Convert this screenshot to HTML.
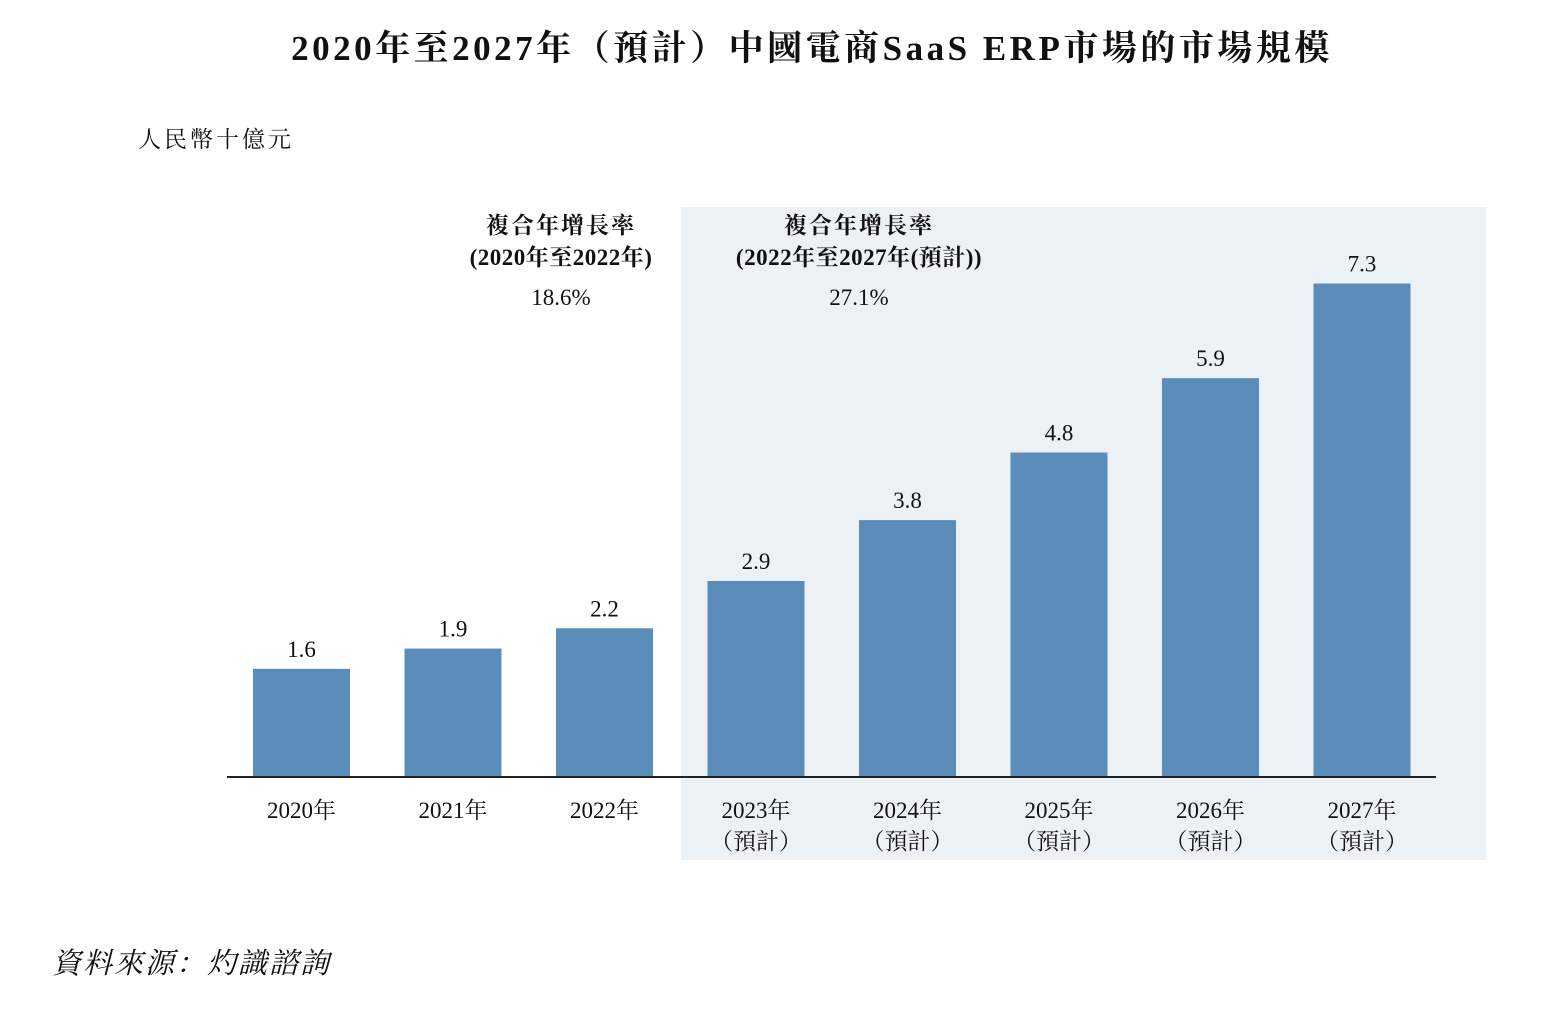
<!DOCTYPE html>
<html><head><meta charset="utf-8"><style>
body{margin:0;background:#fff;}
svg text{font-family:"Liberation Serif","Noto Serif CJK SC","Noto Sans CJK TC",serif;fill:#111;}
</style></head><body>
<svg width="1564" height="1028" xmlns="http://www.w3.org/2000/svg">
<text x="812" y="60" font-size="35" font-weight="bold" text-anchor="middle" letter-spacing="3.5">2020年至2027年（預計）中國電商SaaS ERP市場的市場規模</text>
<text x="138" y="147" font-size="23" letter-spacing="3">人民幣十億元</text>
<rect x="681" y="207" width="805" height="653" fill="#ecf1f5"/>
<g font-size="23" text-anchor="middle">
<text x="561" y="233" font-weight="bold" letter-spacing="2">複合年增長率</text>
<text x="561" y="265" font-weight="bold" letter-spacing="0.5">(2020年至2022年)</text>
<text x="561" y="305">18.6%</text>
<text x="859" y="233" font-weight="bold" letter-spacing="2">複合年增長率</text>
<text x="859" y="265" font-weight="bold" letter-spacing="0.5">(2022年至2027年(預計))</text>
<text x="859" y="305">27.1%</text>
</g>
<g id="bars"></g>
<line x1="227" y1="777" x2="1436" y2="777" stroke="#222" stroke-width="2"/>
<text x="52" y="973" font-size="29" font-style="italic" letter-spacing="2">資料來源：灼識諮詢</text>
</svg>
<script>
const categories=["2020年","2021年","2022年","2023年","2024年","2025年","2026年","2027年"];
const forecast=[false,false,false,true,true,true,true,true];
const values=[1.6,1.9,2.2,2.9,3.8,4.8,5.9,7.3];
const labels=["1.6","1.9","2.2","2.9","3.8","4.8","5.9","7.3"];
const g=document.getElementById('bars');
const NS="http://www.w3.org/2000/svg";
const base=777, scale=67.6;
const xC=i=>301.5+i*151.5;
const yV=v=>base-v*scale;
values.forEach((v,i)=>{
  const r=document.createElementNS(NS,'rect');
  r.setAttribute('x',xC(i)-48.5);r.setAttribute('y',yV(v));
  r.setAttribute('width',97);r.setAttribute('height',base-yV(v));
  r.setAttribute('fill','#5b8dbb');
  
  
  g.appendChild(r);
  const t=document.createElementNS(NS,'text');
  t.setAttribute('x',xC(i));t.setAttribute('y',yV(v)-12);
  t.setAttribute('font-size','23');t.setAttribute('text-anchor','middle');
  t.textContent=labels[i];
  
  
  g.appendChild(t);
  const c=document.createElementNS(NS,'text');
  c.setAttribute('x',xC(i));c.setAttribute('y',818);
  c.setAttribute('font-size','23');c.setAttribute('text-anchor','middle');
  c.textContent=categories[i];
  
  
  g.appendChild(c);
  if(forecast[i]){
    const f=document.createElementNS(NS,'text');
    f.setAttribute('x',xC(i));f.setAttribute('y',849);
    f.setAttribute('font-size','23');f.setAttribute('text-anchor','middle');
    f.textContent='（預計）';
    
    
    g.appendChild(f);
  }
});
</script>
</body></html>
